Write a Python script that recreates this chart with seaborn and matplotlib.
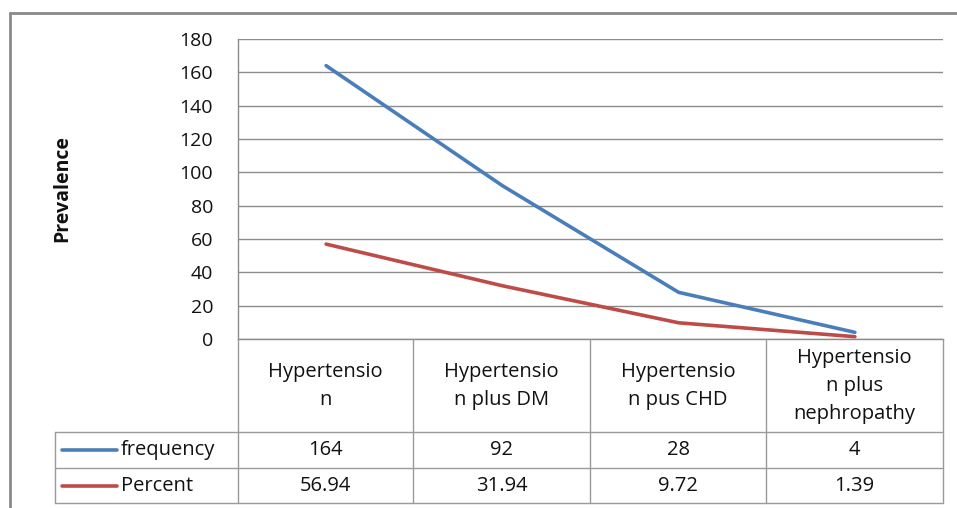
import matplotlib
matplotlib.use("Agg")
import matplotlib.pyplot as plt
from matplotlib.lines import Line2D
import seaborn as sns
import pandas as pd

categories = ["Hypertensio\nn", "Hypertensio\nn plus DM", "Hypertensio\nn pus CHD", "Hypertensio\nn plus\nnephropathy"]
frequency = [164, 92, 28, 4]
percent = [56.94, 31.94, 9.72, 1.39]
freq_labels = ["164", "92", "28", "4"]
pct_labels = ["56.94", "31.94", "9.72", "1.39"]
series_names = ["frequency", "Percent"]
yticks = [0, 20, 40, 60, 80, 100, 120, 140, 160, 180]

sns.set_theme(style="white")
plt.rcParams['font.family'] = ['Open Sans', 'DejaVu Sans']

W, H = 957, 508
fig = plt.figure(figsize=(W / 100, H / 100), dpi=100)

def fx(px):
    return px / W

def fy(py):
    return 1 - py / H

left, right, top, bottom = 238, 943, 39, 339
ax = fig.add_axes([fx(left), fy(bottom), fx(right) - fx(left), fy(top) - fy(bottom)])

df = pd.DataFrame({
    "x": list(range(len(categories))) * 2,
    "value": frequency + percent,
    "series": [series_names[0]] * len(categories) + [series_names[1]] * len(categories),
})
colors = {"frequency": "#4A7EBB", "Percent": "#BE4B48"}
sns.lineplot(data=df, x="x", y="value", hue="series", palette=colors, linewidth=2.6,
             ax=ax, legend=False, sort=False)

ax.set_xlim(-0.5, len(categories) - 0.5)
ax.set_ylim(0, 180)
ax.set_yticks(yticks)
ax.set_yticklabels([str(t) for t in yticks], fontsize=14, color="#111111")
ax.tick_params(axis="y", length=0, pad=18)
ax.set_xticks([])
ax.set_xlabel("")
ax.set_ylabel("")
ax.grid(axis="y", color="#8C8C8C", linewidth=1.0)
ax.set_axisbelow(True)
for s in ["top", "right"]:
    ax.spines[s].set_visible(False)
ax.spines["left"].set_color("#8C8C8C")
ax.spines["left"].set_linewidth(1.0)
ax.spines["bottom"].set_color("#8C8C8C")
ax.spines["bottom"].set_linewidth(1.0)

fig.text(fx(62), fy(189), "Prevalence", rotation=90, ha="center", va="center",
         fontsize=14, fontweight="bold", color="#111111")

# Outer chart border
bc = "#8A8A8A"
fig.add_artist(Line2D([fx(10), 1.0], [fy(13), fy(13)], color=bc, linewidth=2.0))
fig.add_artist(Line2D([fx(10), fx(10)], [fy(13), 0.0], color=bc, linewidth=2.0))

# Data table
gc = "#9A9A9A"
col_edges = [238, 413, 590, 766, 943]
lw = 1.0

def hline(y, x0, x1):
    fig.add_artist(Line2D([fx(x0), fx(x1)], [fy(y), fy(y)], color=gc, linewidth=lw))

def vline(x, y0, y1):
    fig.add_artist(Line2D([fx(x), fx(x)], [fy(y0), fy(y1)], color=gc, linewidth=lw))

hline(432, 55, 943)
hline(468, 55, 943)
hline(503, 55, 943)
vline(55, 432, 503)
for xe in col_edges:
    vline(xe, 339, 503)

for i, cat in enumerate(categories):
    cx = (col_edges[i] + col_edges[i + 1]) / 2
    fig.text(fx(cx), fy(386), cat, ha="center", va="center", fontsize=14.5,
             color="#111111", linespacing=1.55)
    fig.text(fx(cx), fy(450), freq_labels[i], ha="center", va="center", fontsize=14.5, color="#111111")
    fig.text(fx(cx), fy(486), pct_labels[i], ha="center", va="center", fontsize=14.5, color="#111111")

for name, yy in zip(series_names, [450, 486]):
    fig.add_artist(Line2D([fx(62), fx(117)], [fy(yy), fy(yy)], color=colors[name], linewidth=2.6,
                          solid_capstyle="round"))
    fig.text(fx(121), fy(yy), name, ha="left", va="center", fontsize=14.5, color="#111111")

fig.savefig("out.png", dpi=100, facecolor="white")
